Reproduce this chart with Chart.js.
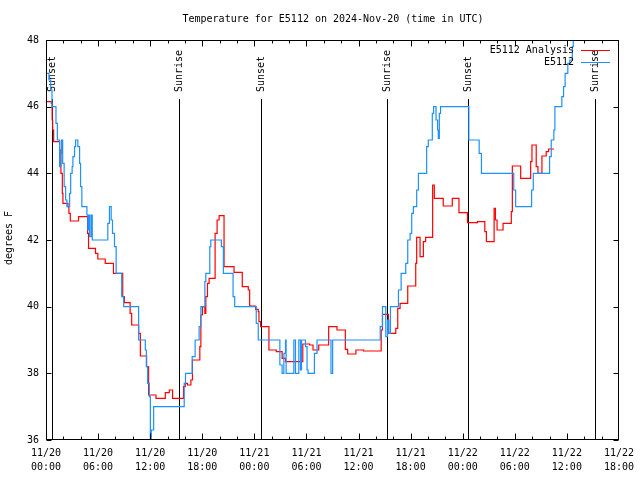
<!DOCTYPE html>
<html>
<head>
<meta charset="utf-8">
<script src="https://cdn.jsdelivr.net/npm/chart.js@4"></script>
<style>
  html, body { margin: 0; padding: 0; background: #fff; overflow: hidden; }
  canvas { display: block; }
</style>
</head>
<body>
<canvas id="chart" width="640" height="480"></canvas>
<script>
// hours since 11/20 00:00 UTC
const analysisHours = [0, 0.62, 0.71, 0.77, 0.88, 1.57, 1.72, 1.88, 1.95, 2.53, 2.64, 2.8, 3.75, 4.79, 4.9,
  5.7, 5.97, 6.82, 7.77, 8.84, 9.03, 9.69, 9.87, 10.67, 10.87, 11.59, 11.82, 12.67, 13.74, 14.2, 14.58,
  15.84, 16.04, 16.3, 16.69, 16.87, 17.72, 17.84, 18.02, 18.3, 18.41, 18.6, 18.79, 19.48, 19.71, 19.94,
  20.51, 21.66, 22.61, 23.3, 23.46, 24.15, 24.45, 24.53, 24.72, 25.68, 26.52, 27.2, 27.59, 29.58, 30.38,
  30.76, 31.42, 32.56, 33.52, 34.48, 34.75, 35.7, 36.58, 38.61, 38.76, 39.45, 40.29, 40.52, 40.79, 41.67,
  42.59, 42.7, 43.09, 43.47, 43.73, 44.54, 44.73, 45.76, 46.8, 47.57, 48.55, 49.7, 50.55, 50.73, 51.62,
  51.77, 51.96, 52.65, 53.6, 53.72, 54.68, 55.83, 55.98, 56.47, 56.67, 57.13, 57.62, 57.9, 58.51];
const analysisTemps = [46.15, 46.1, 45.6, 45.3, 44.95, 44.7, 44.0, 43.4, 43.1, 43.0, 42.8, 42.57, 42.7, 42.2, 41.75,
  41.6, 41.43, 41.3, 41.0, 40.3, 40.12, 39.8, 39.45, 39.2, 38.52, 38.2, 37.35, 37.25, 37.42, 37.5, 37.25,
  37.6, 37.7, 37.65, 37.8, 38.4, 38.8, 39.75, 40.0, 39.8, 40.3, 40.7, 40.85, 42.2, 42.6, 42.73,
  41.2, 41.03, 40.6, 40.5, 40.02, 39.92, 39.85, 39.55, 39.4, 38.7, 38.65, 38.45, 38.35, 38.88, 38.85,
  38.7, 38.85, 39.4, 39.3, 38.72, 38.58, 38.7, 38.67, 39.3, 39.77, 39.2, 39.35, 39.95, 40.1, 40.62,
  41.3, 42.08, 41.5, 41.95, 42.08, 43.65, 43.25, 43.02, 43.25, 42.82, 42.52, 42.55, 42.25, 41.95, 42.95,
  42.6, 42.3, 42.5, 42.85, 44.22, 43.85, 44.35, 44.85, 44.2, 44.0, 44.52, 44.65, 44.73, 44.73];

const obsHours = [0, 0.34, 0.54, 0.69, 1.15, 1.31, 1.57, 1.69, 1.8, 1.92, 2.09, 2.26, 2.41, 2.72, 2.84, 3.01,
  3.1, 3.29, 3.41, 3.67, 3.87, 3.98, 4.13, 4.71, 4.82, 4.9, 5.02, 5.19, 5.33, 7.12, 7.31, 7.51, 7.66, 7.89,
  8.08, 8.72, 8.95, 10.67, 11.44, 11.56, 11.71, 11.9, 12.02, 12.13, 12.4, 15.92, 16.07, 16.84, 17.18, 17.64,
  17.84, 18.3, 18.41, 18.87, 18.98, 20.2, 20.43, 21.55, 21.74, 24.22, 24.45, 26.94, 27.2, 27.4, 27.59, 27.66,
  28.55, 28.74, 29.12, 29.32, 29.43, 29.89, 30.07, 30.19, 30.92, 31.22, 32.83, 33.02, 38.5, 38.76, 39.14,
  39.34, 39.49, 39.68, 40.6, 40.91, 41.44, 41.67, 41.94, 42.13, 42.32, 42.7, 42.9, 43.85, 44.04, 44.5, 44.65,
  44.93, 45.11, 45.19, 45.31, 45.45, 48.71, 49.9, 50.16, 53.88, 54.1, 55.94, 56.13, 58.01, 58.2, 58.5, 58.62,
  59.42, 59.62, 59.8, 60.11, 60.34, 60.63, 60.74, 60.91];
const obsTemps = [47, 46.8, 46.5, 46, 45.5, 45, 44.2, 44.6, 45, 44.3, 43.6, 43.2, 43, 43.4, 44, 44.2,
  44.5, 44.8, 45, 44.8, 44.3, 43.6, 43, 42.75, 42.3, 42.75, 42.1, 42.75, 42, 42.5, 43, 42.6, 42.2, 41.8,
  41, 40.3, 40, 39, 38.7, 38.2, 37.7, 37.3, 36, 36.3, 37, 37.7, 38, 38.5, 39, 39.4,
  40, 40.75, 41, 41.8, 42, 41.8, 41, 40.3, 40, 39.5, 39, 38.25, 38, 38.6, 39, 38,
  39, 38, 39, 38.1, 39, 38.8, 38.1, 38, 38.6, 39, 38, 39, 39.4, 40, 39.1,
  39.6, 39.2, 40, 40.5, 41, 41.3, 42, 42.2, 42.8, 43, 43.5, 44, 44.8, 45, 45.8, 46,
  45.6, 45.3, 45.05, 45.8, 46, 45, 44.6, 44, 43.5, 43, 43.5, 44, 44.5, 45, 45.3, 46,
  46.3, 46.6, 47, 47.3, 47.4, 47.8, 48.6, 49.5];

const xTickLabels = [['11/20', '00:00'], ['11/20', '06:00'], ['11/20', '12:00'], ['11/20', '18:00'],
  ['11/21', '00:00'], ['11/21', '06:00'], ['11/21', '12:00'], ['11/21', '18:00'],
  ['11/22', '00:00'], ['11/22', '06:00'], ['11/22', '12:00'], ['11/22', '18:00']];

const sunHours = [0.71, 15.27, 24.72, 39.26, 48.62, 63.25];
const sunLabels = ['Sunset', 'Sunrise', 'Sunset', 'Sunrise', 'Sunset', 'Sunrise'];

const FONT = '10px "DejaVu Sans Mono"';
const RED = '#ff0000';
const BLUE = '#1e90ff';

Chart.defaults.font.family = '"DejaVu Sans Mono"';
Chart.defaults.font.size = 10;
Chart.defaults.color = '#000';

const toXY = (hs, vs) => hs.map((h, i) => ({ x: h, y: vs[i] }));

const gnuplotLook = {
  id: 'gnuplotLook',
  beforeDatasetsDraw(chart) {
    const { ctx, chartArea: a, scales: { x } } = chart;
    ctx.save();
    ctx.strokeStyle = '#000';
    ctx.fillStyle = '#000';
    ctx.lineWidth = 1;
    ctx.font = FONT;
    sunHours.forEach((h, i) => {
      const px = Math.round(x.getPixelForValue(h)) + 0.5;
      ctx.beginPath();
      ctx.moveTo(px, a.bottom);
      ctx.lineTo(px, a.top + 59);
      ctx.stroke();
      ctx.save();
      ctx.translate(px, a.top + 52);
      ctx.rotate(-Math.PI / 2);
      ctx.textAlign = 'left';
      ctx.textBaseline = 'middle';
      ctx.fillText(sunLabels[i], 0, 0);
      ctx.restore();
    });
    ctx.restore();
  },
  afterDraw(chart) {
    const { ctx, chartArea: a, scales: { x, y } } = chart;
    ctx.save();
    ctx.strokeStyle = '#000';
    ctx.lineWidth = 1;
    const L = Math.round(a.left) + 0.5, R = Math.round(a.right) - 0.5;
    const T = Math.round(a.top) + 0.5, B = Math.round(a.bottom) - 0.5;
    ctx.strokeRect(L, T, R - L, B - T);

    ctx.beginPath();
    for (let h = 0; h <= 66; h += 2) {
      const px = Math.min(Math.round(x.getPixelForValue(h)) + 0.5, R);
      const len = h % 6 === 0 ? 6 : 3;
      ctx.moveTo(px, B); ctx.lineTo(px, B - len);
      ctx.moveTo(px, T); ctx.lineTo(px, T + len);
    }
    for (let v = 36; v <= 48; v += 2) {
      const py = Math.round(y.getPixelForValue(v)) + 0.5;
      ctx.moveTo(L, py); ctx.lineTo(L + 5, py);
      ctx.moveTo(R, py); ctx.lineTo(R - 5, py);
    }
    ctx.stroke();

    ctx.fillStyle = '#000';
    ctx.font = FONT;
    ctx.textAlign = 'center';
    ctx.textBaseline = 'middle';
    ctx.fillText('Temperature for E5112 on 2024-Nov-20 (time in UTC)', 333, 19);

    ctx.save();
    ctx.translate(9, 238);
    ctx.rotate(-Math.PI / 2);
    ctx.fillText('degrees F', 0, 0);
    ctx.restore();

    // legend
    ctx.textAlign = 'right';
    ctx.fillText('E5112 Analysis', 574, 50);
    ctx.fillText('E5112', 574, 62);
    ctx.beginPath();
    ctx.strokeStyle = RED;
    ctx.moveTo(581, 50.5); ctx.lineTo(610, 50.5);
    ctx.stroke();
    ctx.beginPath();
    ctx.strokeStyle = BLUE;
    ctx.moveTo(581, 62.5); ctx.lineTo(610, 62.5);
    ctx.stroke();
    ctx.restore();
  }
};

new Chart(document.getElementById('chart'), {
  type: 'line',
  data: {
    datasets: [
      {
        label: 'E5112',
        data: toXY(obsHours, obsTemps),
        borderColor: BLUE,
        borderWidth: 1.2,
        pointRadius: 0,
        stepped: true,
        fill: false,
      },
      {
        label: 'E5112 Analysis',
        data: toXY(analysisHours, analysisTemps),
        borderColor: RED,
        borderWidth: 1.2,
        pointRadius: 0,
        stepped: true,
        fill: false,
      },
    ],
  },
  options: {
    responsive: false,
    animation: false,
    devicePixelRatio: 1,
    layout: { padding: { top: 40, right: 19, left: 0, bottom: 0 } },
    plugins: {
      legend: { display: false },
      tooltip: { enabled: false },
      title: { display: false },
    },
    scales: {
      x: {
        type: 'linear',
        min: 0,
        max: 66,
        grid: { display: false, drawTicks: false },
        border: { display: false },
        ticks: {
          stepSize: 6,
          padding: 6,
          maxRotation: 0,
          autoSkip: false,
          font: { lineHeight: 1.4 },
          callback: v => xTickLabels[v / 6],
        },
        afterFit: s => { s.height = 40; },
      },
      y: {
        min: 36,
        max: 48,
        grid: { display: false, drawTicks: false },
        border: { display: false },
        ticks: { stepSize: 2, padding: 7 },
        afterFit: s => { s.width = 46; },
      },
    },
  },
  plugins: [gnuplotLook],
});
</script>
</body>
</html>
